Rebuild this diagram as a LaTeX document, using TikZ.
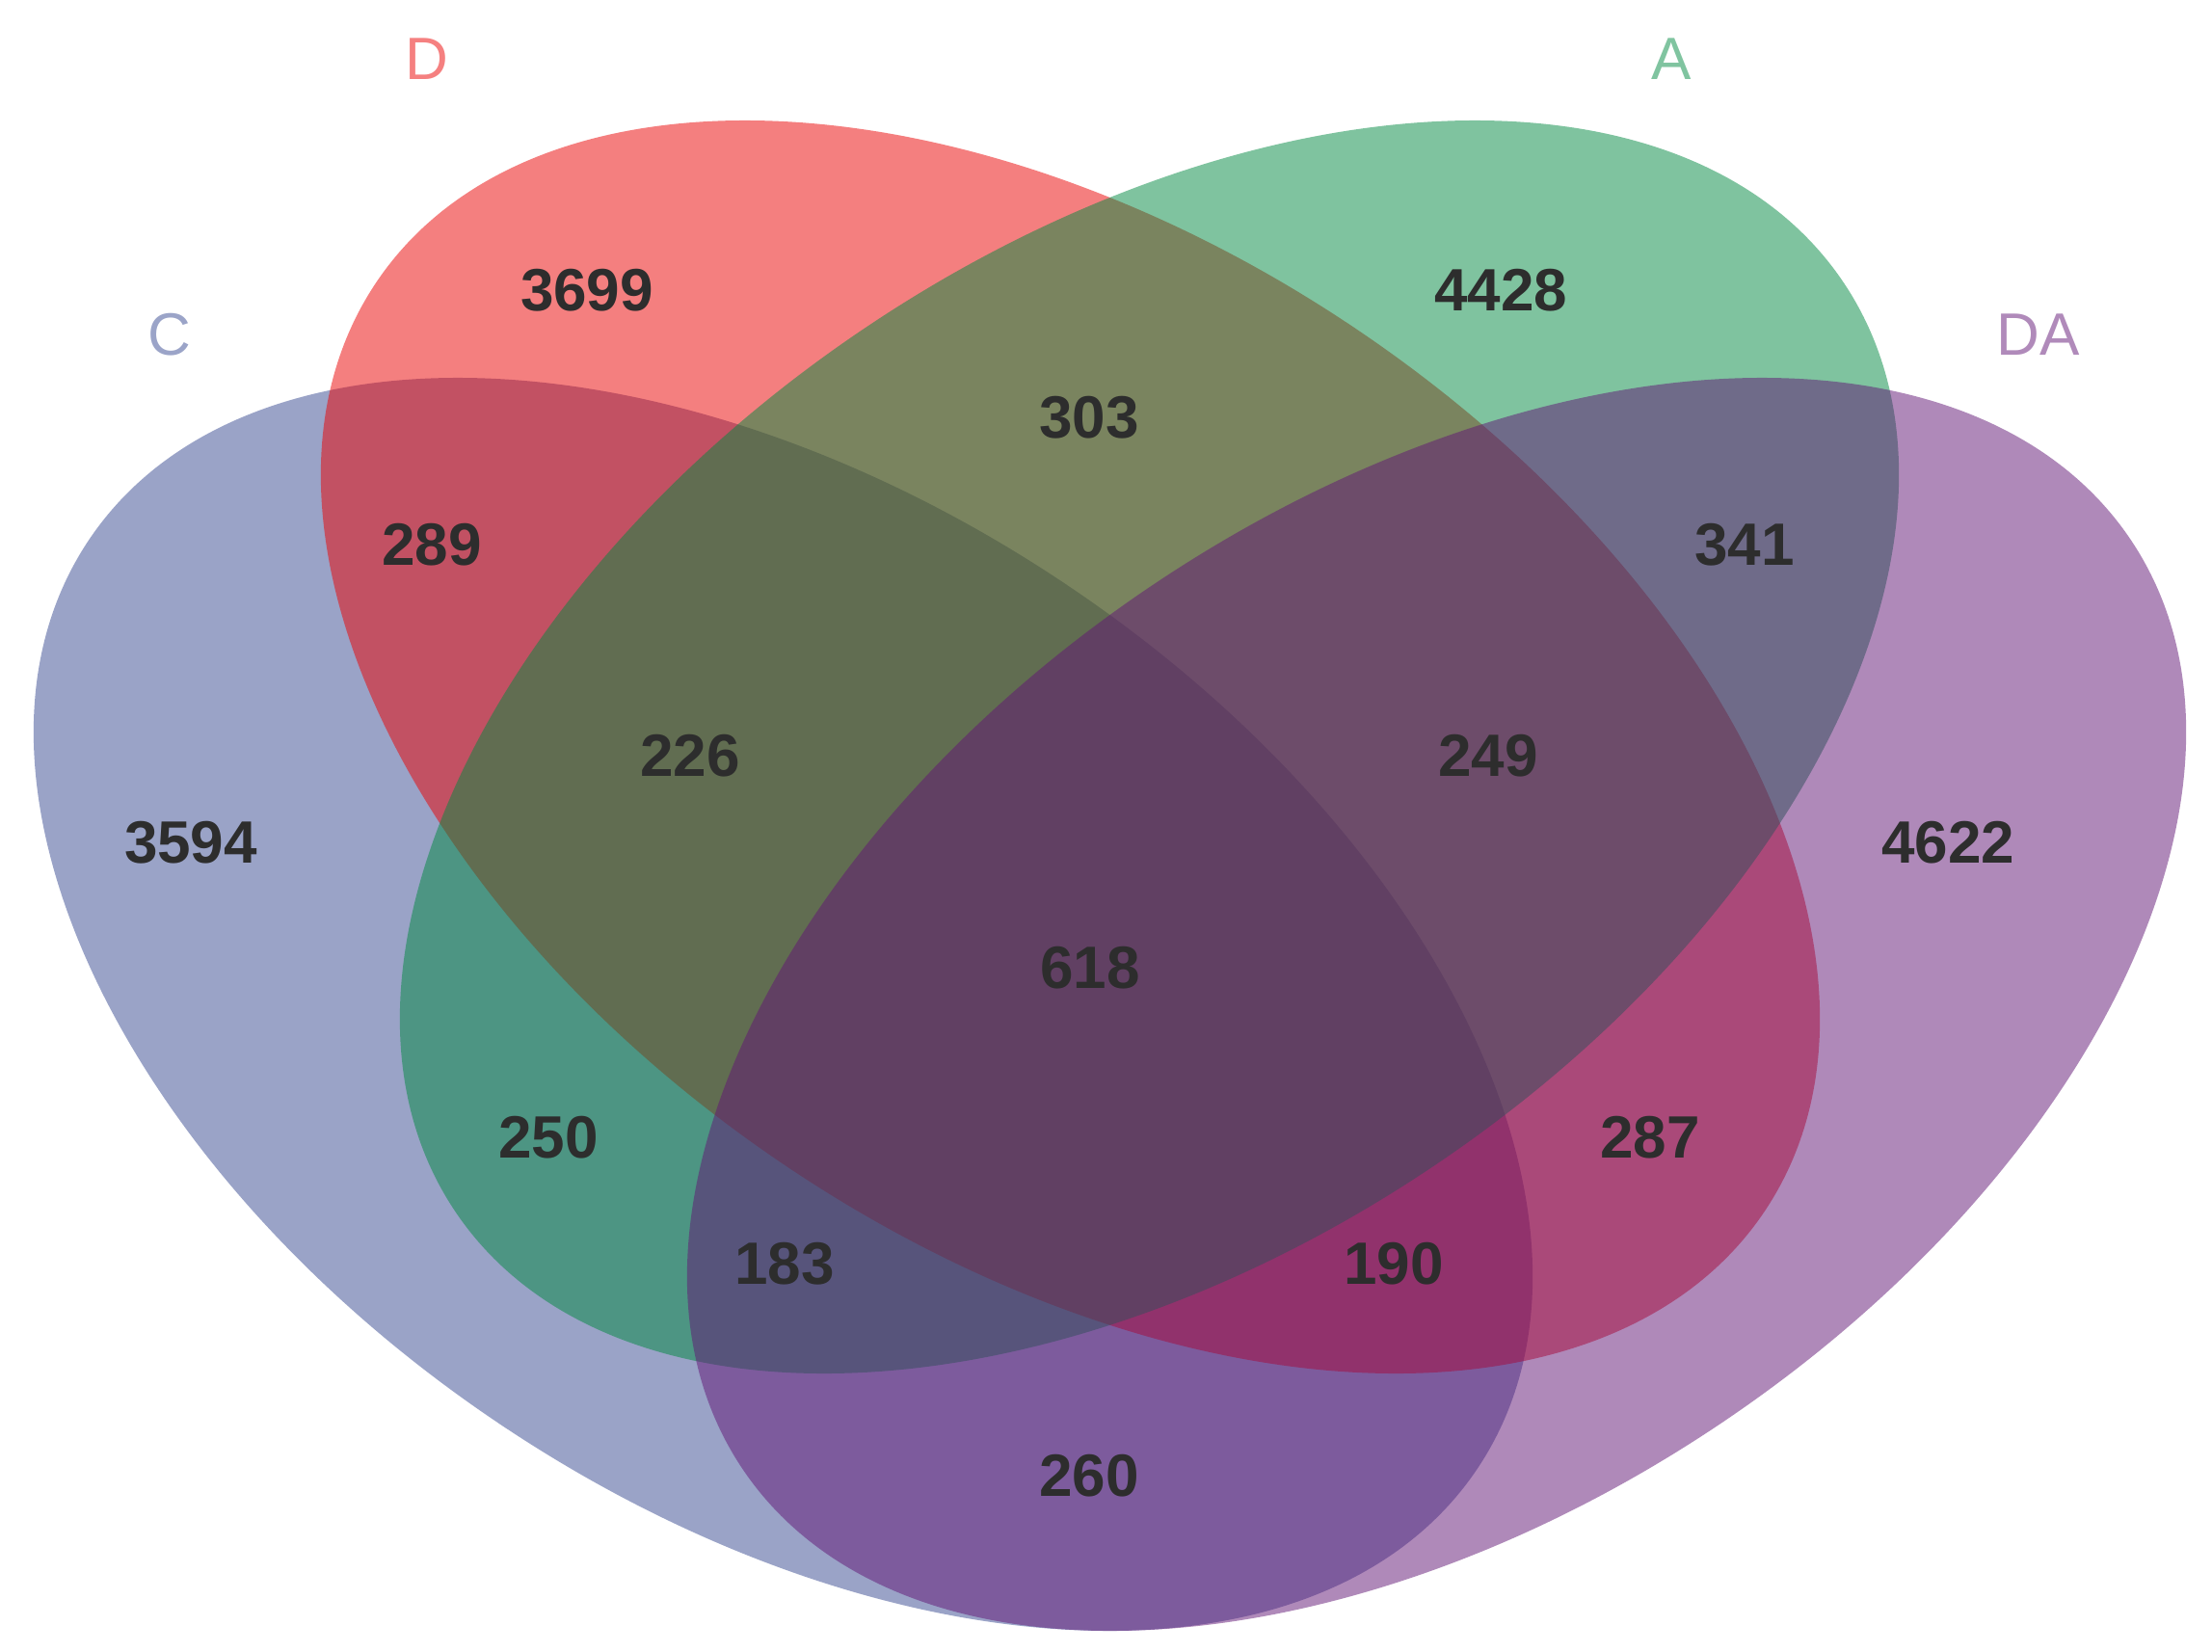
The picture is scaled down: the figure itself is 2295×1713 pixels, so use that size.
\documentclass[tikz,border=0pt]{standalone}
\usepackage{fontspec}
\setmainfont{Liberation Sans}
\definecolor{cC}{RGB}{55,73,145}
\definecolor{cD}{RGB}{235,1,1}
\definecolor{cA}{RGB}{1,137,65}
\definecolor{cDA}{RGB}{97,21,117}
\definecolor{lC}{RGB}{155,164,200}
\definecolor{lD}{RGB}{245,128,128}
\definecolor{lA}{RGB}{128,196,160}
\definecolor{lDA}{RGB}{176,138,186}
\definecolor{numgray}{RGB}{45,45,45}
\begin{document}
\begin{tikzpicture}[x=0.3pt,y=0.3pt,
  setfill/.style={fill opacity=0.5},
  num/.style={font=\fontsize{18.6pt}{22pt}\selectfont\bfseries, text=numgray, inner sep=0pt},
  setlab/.style={font=\fontsize{18.6pt}{22pt}\selectfont, inner sep=0pt}]
\useasboundingbox (0,0) rectangle (2295,1713);
\fill[white] (0,0) rectangle (2295,1713);
% ellipses (drawn in order C, D, A, DA)
\fill[cC, setfill, rotate around={-33.74:(812.5,671)}] (812.5,671) ellipse [x radius=866.6, y radius=525.4];
\fill[cD, setfill, rotate around={-33.74:(1110.5,938)}] (1110.5,938) ellipse [x radius=866.6, y radius=525.4];
\fill[cA, setfill, rotate around={33.74:(1192.5,938)}] (1192.5,938) ellipse [x radius=866.6, y radius=525.4];
\fill[cDA, setfill, rotate around={33.74:(1490.5,671)}] (1490.5,671) ellipse [x radius=866.6, y radius=525.4];
% set labels
\node[setlab, text=lD] (labD) at (443,1652) {D};
\node[setlab, text=lA] (labA) at (1734,1652) {A};
\node[setlab, text=lC] (labC) at (176,1366) {C};
\node[setlab, text=lDA] (labDA) at (2115,1366) {DA};
% counts
\node[num] (n3699) at (609,1412) {3699};
\node[num] (n4428) at (1557,1412) {4428};
\node[num] (n303) at (1130,1280) {303};
\node[num] (n289) at (448,1148) {289};
\node[num] (n341) at (1810,1148) {341};
\node[num] (n226) at (716,929) {226};
\node[num] (n249) at (1544,929) {249};
\node[num] (n3594) at (198,839) {3594};
\node[num] (n4622) at (2021,839) {4622};
\node[num] (n618) at (1131,709) {618};
\node[num] (n250) at (569,533) {250};
\node[num] (n287) at (1712,533) {287};
\node[num] (n183) at (814,402) {183};
\node[num] (n190) at (1446,402) {190};
\node[num] (n260) at (1130,182) {260};
\end{tikzpicture}
\end{document}
